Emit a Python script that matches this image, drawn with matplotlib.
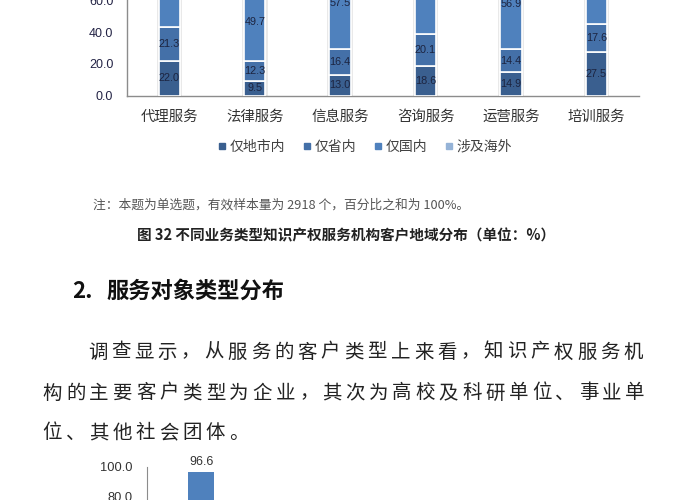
import numpy as np
import matplotlib
matplotlib.use("Agg")
import matplotlib.pyplot as plt
from matplotlib.lines import Line2D
from matplotlib.ticker import FuncFormatter

plt.rcParams['font.family'] = ['Noto Sans CJK SC', 'DejaVu Sans']

# top chart: client region by service type (%)
services = ['代理服务', '法律服务', '信息服务', '咨询服务', '运营服务', '培训服务']
series_names = ['仅地市内', '仅省内', '仅国内', '涉及海外']
local_city = [22.0, 9.5, 13.0, 18.6, 14.9, 27.5]
province = [21.3, 12.3, 16.4, 20.1, 14.4, 17.6]
domestic = [44.0, 49.7, 57.5, 46.4, 56.9, 42.0]
overseas = [12.7, 28.5, 13.1, 14.9, 13.8, 12.9]
series_colors = ['#3a5f8f', '#4470a8', '#4f81bd', '#95b3d7']

# bottom chart (only the first bar is visible)
client_types = ['企业']
client_values = [96.6]

note = '注：本题为单选题，有效样本量为 2918 个，百分比之和为 100%。'
caption = '图 32 不同业务类型知识产权服务机构客户地域分布（单位：%）'
para_lines = [
    '调查显示，从服务的客户类型上来看，知识产权服务机',
    '构的主要客户类型为企业，其次为高校及科研单位、事业单',
    '位、其他社会团体。',
]

W, H = 700, 500
fig = plt.figure(figsize=(7, 5), dpi=100)
fig.patch.set_facecolor('white')

num_font = 'Liberation Sans'
fmt = FuncFormatter(lambda v, p: f'{v:.1f}')

# ---- top stacked bar chart (cropped at the top of the page) ----
ax = fig.add_axes([126.7 / W, 1 - 95.7 / H, 512.3 / W, 159 / H])
x = np.arange(len(services))
data = [local_city, province, domestic, overseas]
totals = np.sum(np.array(data), axis=0)
ax.bar(x, totals, 0.30, color='#e9e9e9', zorder=2)
bottom = np.zeros(len(services))
for name, vals, col in zip(series_names, data, series_colors):
    vals = np.array(vals)
    ax.bar(x, vals, 0.25, bottom=bottom, color=col, edgecolor='white',
           linewidth=1.2, zorder=3)
    for xi, b, v in zip(x, bottom, vals):
        ax.text(xi, b + v / 2, f'{v:.1f}', ha='center', va='center',
                fontsize=7.8, family=num_font, color='#1c2440', zorder=4)
    bottom += vals

ax.set_xlim(-0.5, 5.5)
ax.set_ylim(0, 100)
ax.set_yticks(np.arange(0, 101, 20))
ax.yaxis.set_major_formatter(fmt)
ax.set_xticks(x)
ax.set_xticklabels(services, fontsize=10.4, color='#333333')
for lab in ax.get_yticklabels():
    lab.set_family(num_font)
    lab.set_fontsize(9)
    lab.set_color('#222244')
ax.tick_params(axis='y', length=0, pad=9.6)
ax.tick_params(axis='x', length=0, pad=10)
for s in ['top', 'right']:
    ax.spines[s].set_visible(False)
for s in ['left', 'bottom']:
    ax.spines[s].set_color('#8c8c8c')
    ax.spines[s].set_linewidth(1)

handles = [Line2D([], [], marker='s', linestyle='none', markersize=4.2,
                  color=c) for c in series_colors]
fig.legend(handles, series_names, loc='center', bbox_to_anchor=(0.522, 1 - 146.7 / H),
           ncol=4, frameon=False, fontsize=10, handlelength=0.5,
           handletextpad=0.3, columnspacing=1.3, labelcolor='#404040')

# ---- notes and caption ----
fig.text(93 / W, 1 - 205 / H, note, fontsize=9.2, color='#555555',
         ha='left', va='center')
fig.text(137 / W, 1 - 235 / H, caption, fontsize=10.5, color='#222222',
         ha='left', va='center', weight='bold')

# ---- section heading ----
fig.text(71.7 / W, 1 - 291.7 / H, '2.', fontsize=16, color='#111111',
         ha='left', va='center', weight='bold')
fig.text(106.7 / W, 1 - 291.7 / H, '服务对象类型分布', fontsize=16,
         color='#111111', ha='left', va='center', weight='bold')

# ---- body paragraph (justified, fixed pitch) ----
pitch = 23.3
starts = [86.7, 41.7, 41.7]
baselines = [357.5, 398.5, 438.5]
for line, x0, yb in zip(para_lines, starts, baselines):
    for i, ch in enumerate(line):
        fig.text((x0 + i * pitch + 1.0) / W, 1 - yb / H, ch, fontsize=14,
                 color='#222222', ha='left', va='baseline')

# ---- bottom bar chart (cropped at the bottom of the page) ----
ax2 = fig.add_axes([146.7 / W, 1 - 613.4 / H, 435 / W, 146.7 / H])
x2 = np.arange(len(client_types))
ax2.bar(x2, client_values, 0.24, color='#4f81bd', zorder=3)
for xi, v in zip(x2, client_values):
    ax2.annotate(f'{v:.1f}', (xi, v), xytext=(0, 3), textcoords='offset points',
                 ha='center', va='bottom', fontsize=9, family=num_font,
                 color='#333333', annotation_clip=False)
ax2.set_xlim(-0.5, 3.5)
ax2.set_ylim(0, 100)
ax2.set_yticks(np.arange(0, 101, 20))
ax2.yaxis.set_major_formatter(fmt)
ax2.set_xticks([])
for lab in ax2.get_yticklabels():
    lab.set_family(num_font)
    lab.set_fontsize(9.3)
    lab.set_color('#333333')
ax2.tick_params(axis='y', length=0, pad=9.9)
for s in ['top', 'right', 'bottom']:
    ax2.spines[s].set_visible(False)
ax2.spines['left'].set_color('#8c8c8c')

fig.savefig('out.png', dpi=100)
